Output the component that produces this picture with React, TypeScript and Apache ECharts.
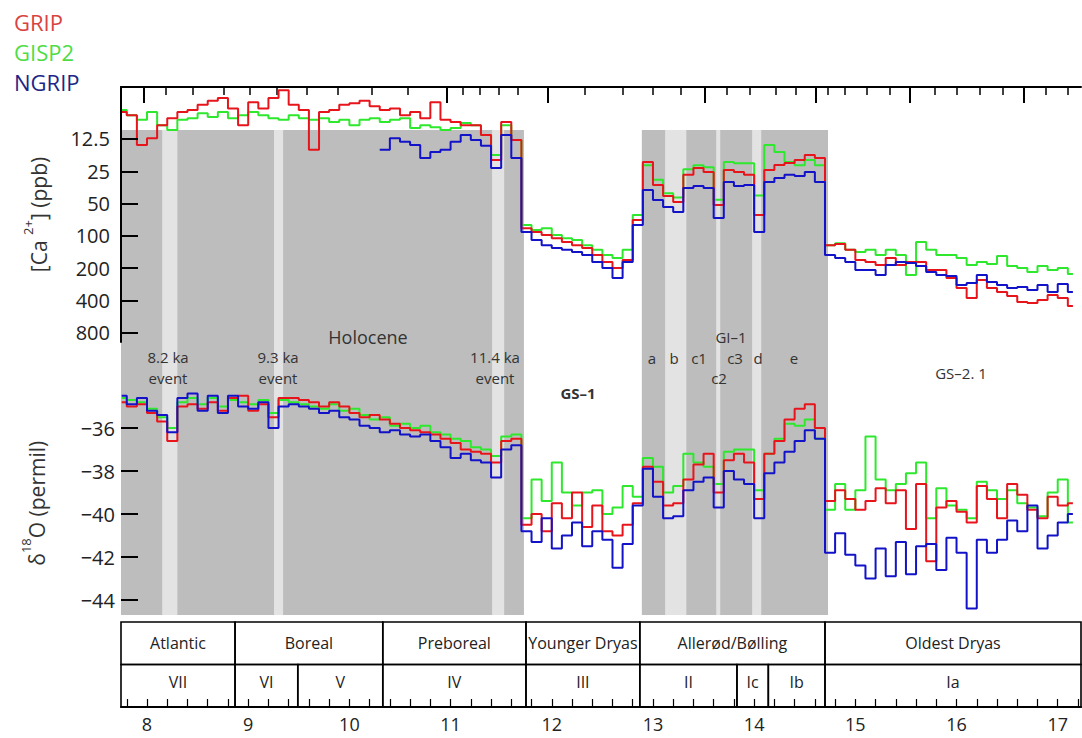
import React, { useEffect, useRef } from 'react';
import * as echarts from 'echarts';

const FONT = '"Open Sans", "Noto Sans", sans-serif';

// age (ka b2k), sampled every 0.1 ka
const ages = [
  7.75, 7.85, 7.95, 8.05, 8.15, 8.25, 8.35, 8.45, 8.55, 8.65,
  8.75, 8.85, 8.95, 9.05, 9.15, 9.25, 9.35, 9.45, 9.55, 9.65,
  9.75, 9.85, 9.95, 10.05, 10.15, 10.25, 10.35, 10.45, 10.55, 10.65,
  10.75, 10.85, 10.95, 11.05, 11.15, 11.25, 11.35, 11.45, 11.55, 11.65,
  11.75, 11.85, 11.95, 12.05, 12.15, 12.25, 12.35, 12.45, 12.55, 12.65,
  12.75, 12.85, 12.95, 13.05, 13.15, 13.25, 13.35, 13.45, 13.55, 13.65,
  13.75, 13.85, 13.95, 14.05, 14.15, 14.25, 14.35, 14.45, 14.55, 14.65,
  14.75, 14.85, 14.95, 15.05, 15.15, 15.25, 15.35, 15.45, 15.55, 15.65,
  15.75, 15.85, 15.95, 16.05, 16.15, 16.25, 16.35, 16.45, 16.55, 16.65,
  16.75, 16.85, 16.95, 17.05, 17.15,
];

// [Ca2+] in ppb
const caGISP2 = [
  6.7, 7.5, 8.3, 7.0, 9.3, 10.3, 8.3, 8.0, 7.2, 7.8,
  7.0, 8.0, 7.5, 7.0, 7.5, 8.0, 8.3, 7.5, 8.0, 8.3,
  8.0, 8.7, 8.3, 9.3, 8.3, 8.0, 8.7, 8.3, 8.0, 9.9,
  9.3, 9.7, 10.3, 9.9, 8.9, 9.3, 11.5, 17.6, 9.3, 12.8,
  79, 88, 85, 98, 105, 109, 122, 135, 151, 161,
  135, 64, 22, 30, 40, 44, 24, 22, 23, 46,
  20.5, 21, 21, 42, 14.2, 16.5, 20.5, 22, 19.6, 22,
  122, 117, 135, 141, 135, 151, 135, 151, 232, 114,
  135, 151, 151, 161, 187, 175, 183, 154, 191, 199,
  217, 191, 208, 199, 227,
];
const caGRIP = [
  7.0, 7.5, 14.2, 12.3, 9.3, 8.0, 7.0, 6.7, 6.0, 5.5,
  5.2, 6.5, 9.3, 5.7, 6.5, 5.2, 4.4, 6.0, 6.7, 15.8,
  7.0, 6.7, 6.0, 5.8, 5.5, 6.2, 6.7, 6.5, 7.5, 7.0,
  8.0, 5.7, 8.3, 8.7, 9.3, 9.3, 11.5, 19.6, 8.7, 12.8,
  85, 92, 98, 105, 114, 122, 130, 151, 175, 199,
  168, 71, 20.5, 33.6, 42.5, 48.4, 27, 23.3, 25.4, 51.6,
  24.3, 25.4, 27, 64, 24.3, 21.9, 20.9, 19.6, 17.6, 18.8,
  122, 119, 135, 168, 175, 187, 161, 187, 175, 175,
  208, 208, 247, 306, 380, 258, 306, 334, 364, 414,
  423, 396, 356, 380, 451,
];
const caNGRIP = [
  null, null, null, null, null, null, null, null, null, null,
  null, null, null, null, null, null, null, null, null, null,
  null, null, null, null, null, null, 15.8, 12.3, 13.3, 14.2,
  18.8, 16.5, 15.8, 13.3, 11.5, 12.8, 14.5, 23.3, 11.5, 18.8,
  92, 109, 122, 130, 135, 141, 151, 175, 199, 247,
  175, 79, 37.4, 46.3, 53.8, 60, 35.8, 34.3, 35.8, 68,
  31.5, 34.3, 33.6, 92, 31.5, 28.9, 27, 27.7, 25.4, 31.5,
  151, 161, 175, 208, 208, 232, 187, 175, 179, 191,
  217, 232, 237, 287, 275, 232, 269, 287, 306, 300,
  320, 287, 334, 281, 334,
];

// δ18O in permil
const d18GISP2 = [
  -34.6, -34.7, -34.8, -35.1, -35.5, -36.0, -34.8, -34.6, -34.9, -34.6,
  -35.0, -34.7, -34.8, -34.9, -34.7, -35.3, -34.7, -34.8, -34.9, -35.0,
  -35.1, -34.9, -35.2, -35.1, -35.4, -35.6, -35.5, -35.9, -35.8, -36.0,
  -35.9, -36.2, -36.3, -36.5, -36.6, -36.9, -37.0, -37.3, -36.4, -36.3,
  -40.2, -38.4, -39.4, -37.6, -39.0, -39.6, -39.0, -38.9, -40.0, -39.7,
  -38.7, -39.2, -37.4, -37.8, -39.0, -38.7, -37.2, -37.6, -37.8, -38.6,
  -37.1, -37.0, -37.0, -38.9, -37.2, -36.5, -35.8, -35.9, -35.6, -36.5,
  -39.8, -38.6, -39.8, -38.9, -36.4, -38.4, -38.9, -38.6, -38.1, -37.6,
  -40.2, -38.8, -39.6, -39.8, -40.2, -38.5, -38.9, -39.3, -38.9, -39.5,
  -39.7, -40.1, -39.0, -38.4, -40.4,
];
const d18GRIP = [
  -34.8, -35.0, -34.9, -35.3, -35.7, -36.6, -35.0, -34.9, -35.1, -34.8,
  -35.2, -34.6, -34.5, -35.2, -34.9, -35.5, -34.6, -34.6, -34.7, -34.8,
  -35.0, -34.8, -35.0, -35.3, -35.5, -35.4, -35.6, -35.8, -36.0, -36.1,
  -36.2, -36.3, -36.5, -36.7, -37.0, -37.1, -37.2, -37.6, -36.6, -36.5,
  -40.5, -40.0, -40.8, -39.5, -40.2, -39.0, -40.6, -39.6, -40.8, -41.0,
  -40.5, -39.5, -37.8, -38.5, -39.6, -39.5, -38.4, -37.7, -37.2, -39.0,
  -37.5, -37.2, -37.6, -39.3, -37.2, -36.6, -35.6, -35.1, -34.9, -36.0,
  -39.4, -38.9, -39.3, -39.8, -39.4, -38.8, -39.5, -38.9, -40.7, -38.6,
  -42.2, -39.7, -39.4, -39.9, -40.4, -38.7, -39.3, -40.2, -38.6, -39.1,
  -39.8, -40.2, -39.2, -39.6, -39.5,
];
const d18NGRIP = [
  -34.5, -34.9, -34.6, -35.2, -35.4, -36.2, -34.6, -34.4, -35.2, -34.5,
  -35.3, -34.5, -35.0, -35.1, -34.8, -36.0, -35.0, -34.9, -35.0, -35.1,
  -35.3, -35.2, -35.5, -35.6, -35.9, -36.0, -36.2, -36.1, -36.3, -36.4,
  -36.3, -36.6, -36.9, -37.4, -37.2, -37.5, -37.6, -38.3, -37.0, -36.8,
  -40.8, -41.3, -40.2, -41.6, -41.0, -40.4, -41.5, -40.8, -41.2, -42.5,
  -41.4, -39.6, -37.9, -39.2, -40.2, -40.1, -38.9, -38.5, -38.3, -39.7,
  -38.0, -38.4, -38.6, -40.2, -38.1, -37.6, -37.1, -36.6, -36.1, -36.5,
  -41.8, -40.9, -41.9, -42.4, -43.0, -41.6, -42.9, -41.3, -42.8, -41.5,
  -41.4, -42.6, -41.1, -41.8, -44.4, -41.2, -41.8, -41.2, -40.3, -40.8,
  -39.6, -41.6, -41.0, -40.4, -40.0,
];

const X_MIN = 7.743;
const X_MAX = 17.23;

// warm interval shading [from, to] in ka
const warmPeriods = [[X_MIN, 11.725], [12.89, 14.73]];
// short cold events (light stripes) [from, to] in ka
const coldEvents = [[8.15, 8.3], [9.255, 9.345], [11.41, 11.53], [13.12, 13.33], [13.625, 13.665], [13.98, 14.07]];

// chronozone table
const periods = [
  ['Atlantic', X_MIN, 8.87], ['Boreal', 8.87, 10.33], ['Preboreal', 10.33, 11.745],
  ['Younger Dryas', 11.745, 12.87], ['Allerød/Bølling', 12.87, 14.7], ['Oldest Dryas', 14.7, X_MAX],
];
const zones = [
  ['VII', X_MIN, 8.87], ['VI', 8.87, 9.49], ['V', 9.49, 10.33], ['IV', 10.33, 11.745],
  ['III', 11.745, 12.87], ['II', 12.87, 13.83], ['Ic', 13.83, 14.14], ['Ib', 14.14, 14.7], ['Ia', 14.7, X_MAX],
];

const ageLabels = [8, 9, 10, 11, 12, 13, 14, 15, 16, 17];
const caTickLabels = [12.5, 25, 50, 100, 200, 400, 800];
const d18TickLabels = [-44, -42, -40, -38, -36];
const topTicksLong = [7.97, 10.964, 11.962, 13.514, 14.611, 15.54, 16.666];
const topTicksShort = [8.188, 8.455, 8.761, 9.018, 9.285, 9.581, 9.887, 10.223, 10.579, 11.123, 11.291,
  11.478, 11.666, 12.328, 12.704, 13.0, 13.277, 13.731, 13.958, 14.215, 14.413, 14.729, 14.897, 15.115,
  15.342, 15.787, 16.004, 16.231, 16.458, 16.883, 17.101];

const colors = { GRIP: '#e8141c', GISP2: '#2ee82e', NGRIP: '#1212c8' };

const annotations = [
  { t: 'Holocene', x: 368, y: 337, s: 18 },
  { t: '8.2 ka\nevent', x: 168, y: 367 },
  { t: '9.3 ka\nevent', x: 278, y: 367 },
  { t: '11.4 ka\nevent', x: 495, y: 367 },
  { t: 'GS–1', x: 578, y: 393, w: 'bold' },
  { t: 'a', x: 652, y: 358 }, { t: 'b', x: 674, y: 358 }, { t: 'c1', x: 699, y: 358 },
  { t: 'c3', x: 735, y: 358 }, { t: 'd', x: 758, y: 358 }, { t: 'e', x: 794, y: 358 },
  { t: 'c2', x: 719, y: 378 },
  { t: 'GI–1', x: 731, y: 337 },
  { t: 'GS–2. 1', x: 961, y: 373 },
];

function buildOption() {
  const caTickVals = caTickLabels.map((v) => Math.log2(v));
  const bottomTicks: number[] = [];
  for (let k = 39; k <= 86; k++) bottomTicks.push(+(k * 0.2).toFixed(1));

  const caSeries = (name: string, vals: (number | null)[], z: number) => ({
    type: 'line', name, xAxisIndex: 0, yAxisIndex: 0, step: 'middle', showSymbol: false,
    data: ages.map((a, i) => [a, vals[i] == null ? null : Math.log2(vals[i] as number)]),
    lineStyle: { color: colors[name], width: 2 }, itemStyle: { color: colors[name] }, z,
  });
  const dSeries = (name: string, vals: number[], z: number) => ({
    type: 'line', name, xAxisIndex: 2, yAxisIndex: 1, step: 'middle', showSymbol: false,
    data: ages.map((a, i) => [a, vals[i]]),
    lineStyle: { color: colors[name], width: 2 }, itemStyle: { color: colors[name] }, z,
  });

  const shadeData = [
    ...warmPeriods.map((p) => [p[0], p[1], 0]),
    ...coldEvents.map((p) => [p[0], p[1], 1]),
  ];
  const cells = [
    ...periods.map((p) => ({ label: p[0] as string, v: [p[1], p[2], 0] })),
    ...zones.map((p) => ({ label: p[0] as string, v: [p[1], p[2], 1] })),
  ];

  const txt = (extra: any) => ({ fontFamily: FONT, color: '#222', ...extra });
  const nameRich = {
    n: { fontFamily: FONT, fontSize: 21, color: '#333', lineHeight: 28, verticalAlign: 'bottom' },
    s: { fontFamily: FONT, fontSize: 13, color: '#333', lineHeight: 14, verticalAlign: 'top' },
  };

  return {
    animation: false,
    backgroundColor: '#fff',
    legend: {
      orient: 'vertical', left: 4, top: 6, itemGap: 8, itemWidth: 0, itemHeight: 0, icon: 'none',
      selectedMode: false,
      textStyle: { fontFamily: FONT, fontSize: 22, lineHeight: 22 },
      data: [
        { name: 'GRIP', textStyle: { color: '#d9433f' } },
        { name: 'GISP2', textStyle: { color: '#4fdc47' } },
        { name: 'NGRIP', textStyle: { color: '#1c2686' } },
      ],
    },
    grid: [
      { left: 121, width: 960, top: 87, height: 255 },
      { left: 121, width: 960, top: 385, height: 236.5 },
      { left: 121, width: 960, top: 130, height: 485 },
      { left: 121, width: 960, top: 622, height: 85 },
    ],
    xAxis: [
      {
        gridIndex: 0, type: 'value', position: 'top', min: X_MIN, max: X_MAX,
        axisLine: { show: true, onZero: false, lineStyle: { color: '#000', width: 2 } },
        axisTick: { show: true, inside: true, length: 16, lineStyle: { color: '#000', width: 2 }, customValues: topTicksLong },
        axisLabel: { show: false }, splitLine: { show: false },
      },
      {
        gridIndex: 0, type: 'value', position: 'top', min: X_MIN, max: X_MAX,
        axisLine: { show: false, onZero: false },
        axisTick: { show: true, inside: true, length: 8, lineStyle: { color: '#000', width: 1.5 }, customValues: topTicksShort },
        axisLabel: { show: false }, splitLine: { show: false },
      },
      { gridIndex: 1, type: 'value', min: X_MIN, max: X_MAX, show: false },
      { gridIndex: 2, type: 'value', min: X_MIN, max: X_MAX, show: false },
      {
        gridIndex: 3, type: 'value', position: 'bottom', min: X_MIN, max: X_MAX,
        axisLine: { show: true, onZero: false, lineStyle: { color: '#000', width: 2 } },
        axisTick: { show: true, inside: true, length: 8, lineStyle: { color: '#000', width: 1.2 }, customValues: bottomTicks },
        axisLabel: txt({ fontSize: 18, margin: 7, lineHeight: 20, customValues: ageLabels }),
        splitLine: { show: false }, z: 10,
      },
    ],
    yAxis: [
      {
        gridIndex: 0, type: 'value', inverse: true, min: Math.log2(4.1), max: Math.log2(975),
        axisLine: { show: true, onZero: false, lineStyle: { color: '#000', width: 2 } },
        axisTick: { show: true, inside: true, length: 17, lineStyle: { color: '#000', width: 2 }, customValues: caTickVals },
        axisLabel: txt({
          fontSize: 20, margin: 11, customValues: caTickVals,
          formatter: (v: number) => String(Math.round(Math.pow(2, v) * 10) / 10),
        }),
        splitLine: { show: false },
        name: '{n|[Ca }{s|2+}{n|] (ppb)}', nameLocation: 'middle', nameRotate: 90, nameGap: 72,
        nameTextStyle: { rich: nameRich },
        z: 10,
      },
      {
        gridIndex: 1, type: 'value', min: -45, max: -34,
        axisLine: { show: false },
        axisTick: { show: true, inside: true, length: 17, lineStyle: { color: '#000', width: 2 }, customValues: d18TickLabels },
        axisLabel: txt({ fontSize: 20, margin: 6, customValues: d18TickLabels, formatter: (v: number) => String(v).replace('-', '−') }),
        splitLine: { show: false },
        name: '{n|δ}{s|18}{n|O (permil)}', nameLocation: 'middle', nameRotate: 90, nameGap: 74,
        nameTextStyle: { rich: nameRich },
        z: 10,
      },
      { gridIndex: 2, type: 'value', min: 0, max: 1, show: false },
      { gridIndex: 3, type: 'value', min: 0, max: 2, inverse: true, show: false },
    ],
    series: [
      {
        type: 'custom', name: 'shade', xAxisIndex: 3, yAxisIndex: 2, silent: true, z: 1,
        data: shadeData,
        renderItem: (_p: any, api: any) => {
          const a = api.coord([api.value(0), 1]);
          const b = api.coord([api.value(1), 0]);
          return {
            type: 'rect',
            shape: { x: a[0], y: a[1], width: b[0] - a[0], height: b[1] - a[1] },
            style: { fill: api.value(2) === 0 ? '#bdbdbd' : '#e3e3e3' },
          };
        },
      },
      caSeries('GISP2', caGISP2, 3),
      caSeries('GRIP', caGRIP, 4),
      caSeries('NGRIP', caNGRIP, 5),
      dSeries('GISP2', d18GISP2, 3),
      dSeries('GRIP', d18GRIP, 4),
      dSeries('NGRIP', d18NGRIP, 5),
      {
        type: 'custom', name: 'table', xAxisIndex: 4, yAxisIndex: 3, silent: true, z: 2,
        data: cells.map((c) => c.v),
        renderItem: (p: any, api: any) => {
          const row = api.value(2);
          const a = api.coord([api.value(0), row]);
          const b = api.coord([api.value(1), row + 1]);
          const label = cells[p.dataIndex].label;
          return {
            type: 'group',
            children: [
              {
                type: 'rect',
                shape: { x: a[0], y: a[1], width: b[0] - a[0], height: b[1] - a[1] },
                style: { fill: 'none', stroke: '#000', lineWidth: 1.6 },
              },
              {
                type: 'text',
                x: (a[0] + b[0]) / 2,
                y: row === 0 ? (a[1] + b[1]) / 2 : a[1] + 17,
                style: {
                  text: label, fill: '#222', fontFamily: FONT, fontSize: 16,
                  align: 'center', verticalAlign: 'middle', textAlign: 'center', textVerticalAlign: 'middle',
                },
              },
            ],
          };
        },
      },
    ],
    graphic: annotations.map((a) => ({
      type: 'text', x: a.x, y: a.y, z: 20, silent: true,
      style: {
        text: a.t, fill: '#333', fontFamily: FONT, fontSize: a.s || 15, lineHeight: 21,
        fontWeight: a.w || 'normal',
        align: 'center', verticalAlign: 'middle', textAlign: 'center', textVerticalAlign: 'middle',
      },
    })),
  };
}

export default function App() {
  const ref = useRef<HTMLDivElement>(null);
  useEffect(() => {
    document.body.style.margin = '0';
    const chart = echarts.init(ref.current as HTMLDivElement, null, { renderer: 'svg' });
    chart.setOption(buildOption() as any);
    return () => chart.dispose();
  }, []);
  return <div ref={ref} style={{ width: 1082, height: 738 }} />;
}
